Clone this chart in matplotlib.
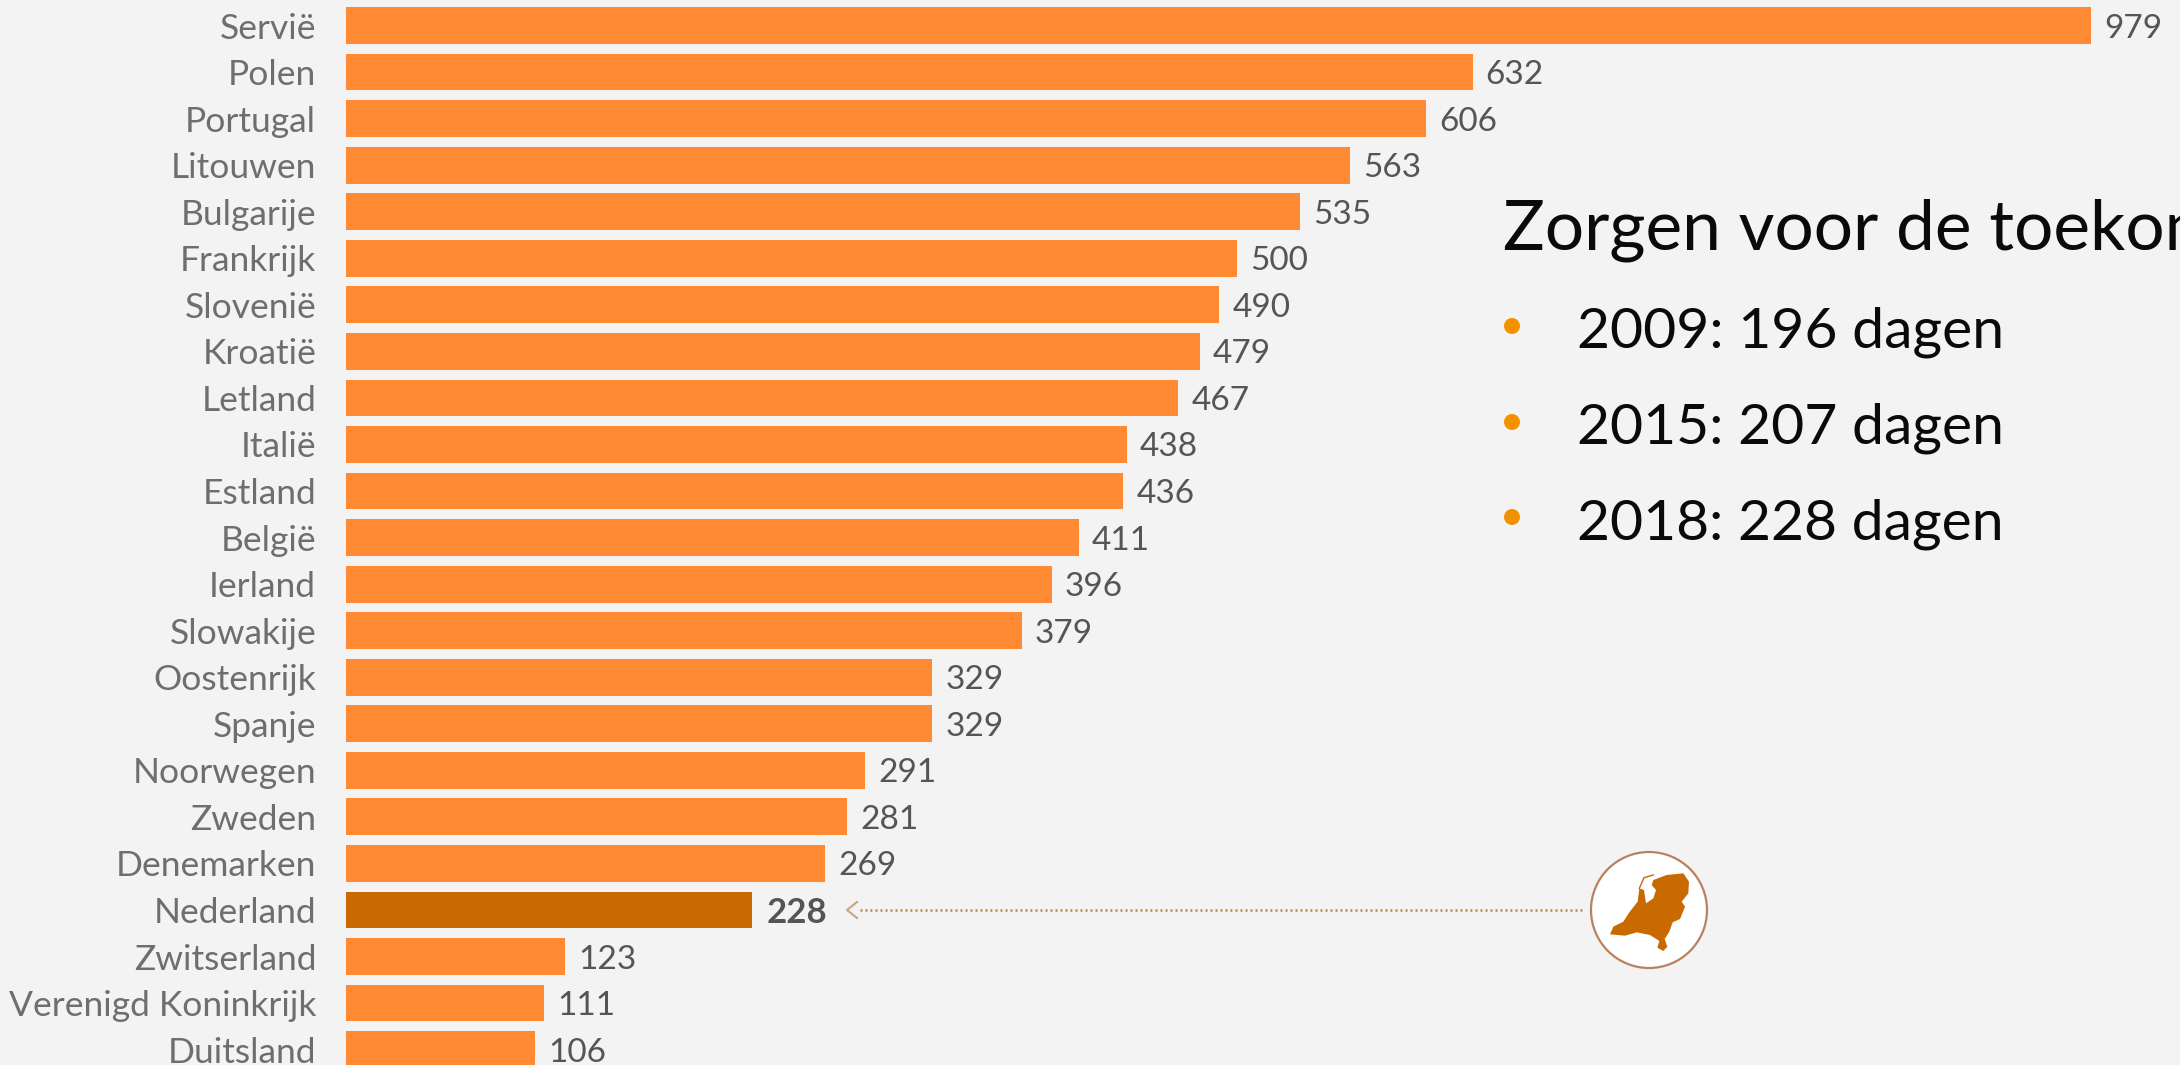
import matplotlib
matplotlib.use("Agg")
import matplotlib.pyplot as plt
from matplotlib.patches import Circle, Polygon

countries = ["Servië", "Polen", "Portugal", "Litouwen", "Bulgarije", "Frankrijk", "Slovenië", "Kroatië",
             "Letland", "Italië", "Estland", "België", "Ierland", "Slowakije", "Oostenrijk", "Spanje",
             "Noorwegen", "Zweden", "Denemarken", "Nederland", "Zwitserland", "Verenigd Koninkrijk", "Duitsland"]
days = [979, 632, 606, 563, 535, 500, 490, 479, 467, 438, 436, 411, 396, 379, 329, 329, 291, 281, 269, 228, 123, 111, 106]
highlight = "Nederland"

title = "Zorgen voor de toekomst"
bullets = ["2009: 196 dagen", "2015: 207 dagen", "2018: 228 dagen"]

BG = "#f3f3f3"
BAR = "#ff8a33"
BAR_DARK = "#c96a00"
W, H = 2180, 1065
LABEL_FONT = "Lato"
SIDE_FONT = "Lato"

fig = plt.figure(figsize=(W / 100, H / 100), dpi=100, facecolor=BG)

# bars: 1 value = 1.7825 px, rows 46.55 px apart
ax = fig.add_axes([346 / W, 0, 1 - 346 / W, 1], facecolor="none")
colors = [BAR_DARK if c == highlight else BAR for c in countries]
ax.barh(range(len(days)), days, height=0.79, color=colors)
ax.set_xlim(0, (W - 346) / 1.7825)
ax.set_ylim(22.33, -0.548)
ax.set_xticks([])
ax.set_yticks(range(len(days)), countries)
ax.tick_params(axis="y", length=0, pad=21.5, labelsize=25.5, labelcolor="#6e6e6e")
for lab in ax.get_yticklabels():
    lab.set_family(LABEL_FONT)
for s in ax.spines.values():
    s.set_visible(False)

for i, (c, v) in enumerate(zip(countries, days)):
    bold = c == highlight
    ax.annotate(str(v), (v, i), xytext=(10.5 if bold else 9.5, 0), textcoords="offset points",
                va="center_baseline", fontsize=25 if bold else 24, family=LABEL_FONT,
                color="#555555", fontweight="bold" if bold else "normal")

# overlay in pixels for the slide text and the icon
ov = fig.add_axes([0, 0, 1, 1], facecolor="none")
ov.set_xlim(0, W)
ov.set_ylim(H, 0)
ov.axis("off")

ov.text(1503, 250, title, fontsize=50, family=SIDE_FONT, color="#0a0a0a", va="baseline", clip_on=True)
for y, b in zip([348, 444, 539], bullets):
    ov.text(1577, y, b, fontsize=41, family=SIDE_FONT, color="#0a0a0a", va="baseline")
    ov.add_patch(Circle((1512, y - 22), 8, color="#f39200", lw=0))

# dotted arrow to the icon
ov.plot([860, 1584], [910, 910], color="#c98a4a", lw=2, ls=(0, (0.7, 1.1)))
ov.plot([857, 847, 857], [902, 910, 918], color="#c9a58a", lw=1.5)

ov.add_patch(Circle((1649, 910), 58, facecolor="white", edgecolor="#b9825e", lw=1.6))
nl_shape = [(250, 135), (290, 120), (340, 115), (357, 140), (355, 175), (335, 200), (345, 215), (330, 252),
            (308, 262), (298, 290), (284, 312), (292, 335), (280, 348), (262, 338), (268, 318), (240, 300),
            (200, 292), (165, 302), (120, 298), (130, 275), (160, 260), (178, 232), (203, 200), (208, 160),
            (222, 165), (228, 205), (250, 190), (258, 165), (245, 150)]
ov.add_patch(Polygon([(1570 + x / 3, 835 + y / 3) for x, y in nl_shape], color=BAR_DARK, lw=0))
wadden = [(208, 160), (222, 128), (250, 120)]
ov.plot([1570 + x / 3 for x, y in wadden], [835 + y / 3 for x, y in wadden], color=BAR_DARK, lw=1)

fig.savefig("out.png", dpi=100, facecolor=BG)
